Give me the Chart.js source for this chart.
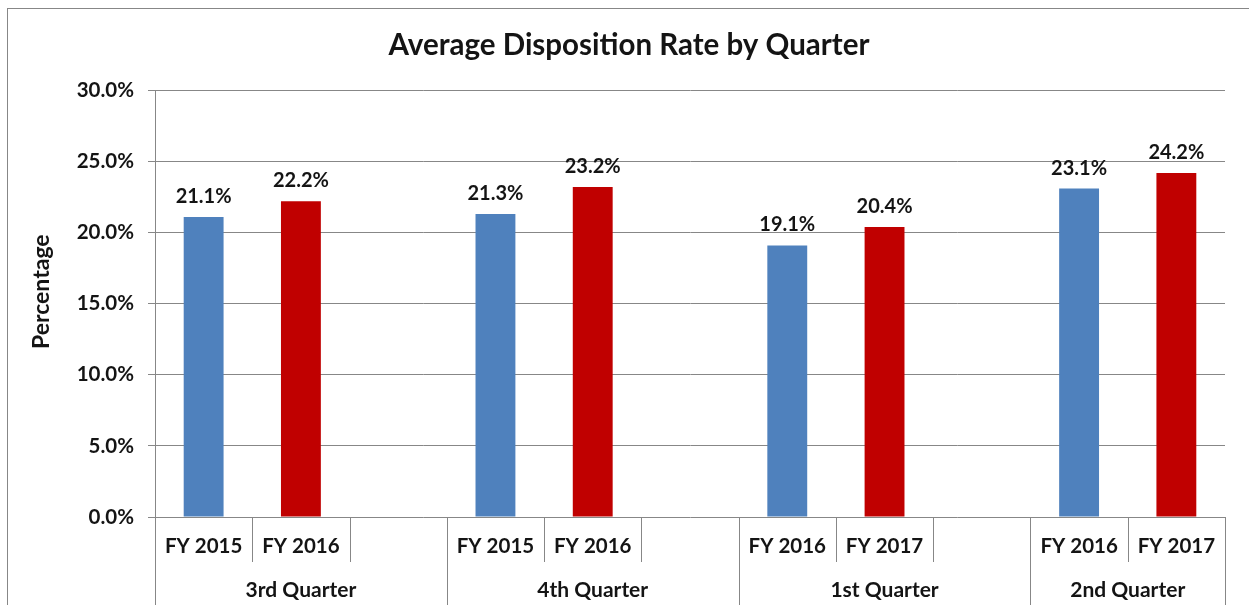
<!DOCTYPE html>
<html>
<head>
<meta charset="utf-8">
<script src="https://cdn.jsdelivr.net/npm/chart.js@4.4.1/dist/chart.umd.min.js"></script>
<style>
  html, body { margin: 0; padding: 0; background: #fff; overflow: hidden; }
  #wrap { width: 1249px; height: 605px; position: relative; }
</style>
</head>
<body>
<div id="wrap"><canvas id="c" width="1249" height="605"></canvas></div>
<script>
// ---- Data ----
const slotLabels = ['FY 2015', 'FY 2016', '', 'FY 2015', 'FY 2016', '', 'FY 2016', 'FY 2017', '', 'FY 2016', 'FY 2017'];
const quarters = ['3rd Quarter', '4th Quarter', '1st Quarter', '2nd Quarter'];
const quarterSlots = [3, 3, 3, 2];
const earlierYear = [21.1, null, null, 21.3, null, null, 19.1, null, null, 23.1, null];
const laterYear   = [null, 22.2, null, null, 23.2, null, null, 20.4, null, null, 24.2];
const yTicks = [0, 5, 10, 15, 20, 25, 30];
const yTitle = 'Percentage';

const FONT = 'Lato, "Noto Sans", sans-serif';
const TEXT = '#141414';
const GRID = '#878787';

const framePlugin = {
  id: 'frame',
  beforeDraw(chart) {
    const ctx = chart.ctx;
    ctx.save();
    ctx.strokeStyle = GRID;
    ctx.lineWidth = 1;
    ctx.strokeRect(7.5, 8.5, 1400, 800);
    ctx.restore();
  }
};

const multiAxisPlugin = {
  id: 'multiAxis',
  afterDraw(chart) {
    const ctx = chart.ctx;
    const xs = chart.scales.x;
    const top = chart.chartArea.bottom;
    const bottom = chart.height;
    ctx.save();
    ctx.strokeStyle = GRID;
    ctx.lineWidth = 1;
    const groupStarts = new Set();
    let acc = 0;
    groupStarts.add(0);
    quarterSlots.forEach(n => { acc += n; groupStarts.add(acc); });
    for (let i = 0; i <= slotLabels.length; i++) {
      const x = Math.round(xs.getPixelForValue(i - 0.5)) + 0.5;
      ctx.beginPath();
      ctx.moveTo(x, top);
      ctx.lineTo(x, groupStarts.has(i) ? bottom : top + 45);
      ctx.stroke();
    }
    ctx.fillStyle = TEXT;
    ctx.font = 'bold 21px ' + FONT;
    ctx.textAlign = 'center';
    ctx.textBaseline = 'middle';
    let start = 0;
    quarters.forEach((q, k) => {
      const end = start + quarterSlots[k];
      const x1 = xs.getPixelForValue(start - 0.5);
      const x2 = xs.getPixelForValue(end - 0.5);
      ctx.fillText(q, (x1 + x2) / 2, top + 73);
      start = end;
    });
    const ys = chart.scales.y;
    ctx.save();
    ctx.translate(42, (ys.top + ys.bottom) / 2 - 12);
    ctx.rotate(-Math.PI / 2);
    ctx.font = 'bold 23px ' + FONT;
    ctx.fillText(yTitle, 0, 0);
    ctx.restore();
    ctx.restore();
  }
};

const valueLabelPlugin = {
  id: 'valueLabels',
  afterDatasetsDraw(chart) {
    const ctx = chart.ctx;
    ctx.save();
    ctx.fillStyle = TEXT;
    ctx.font = 'bold 20px ' + FONT;
    ctx.textAlign = 'center';
    ctx.textBaseline = 'alphabetic';
    chart.data.datasets.forEach((ds, di) => {
      const meta = chart.getDatasetMeta(di);
      meta.data.forEach((el, i) => {
        const v = ds.data[i];
        if (v === null || v === undefined) return;
        ctx.fillText(v.toFixed(1) + '%', el.x, el.y - 14);
      });
    });
    ctx.restore();
  }
};

new Chart(document.getElementById('c'), {
  type: 'bar',
  data: {
    labels: slotLabels,
    datasets: [
      { label: 'Earlier year', data: earlierYear, backgroundColor: '#4f81bd' },
      { label: 'Later year', data: laterYear, backgroundColor: '#c00000' }
    ]
  },
  options: {
    responsive: false,
    animation: false,
    devicePixelRatio: 1,
    layout: { padding: { left: 33, right: 24, top: 0, bottom: 0 } },
    datasets: { bar: { grouped: false, categoryPercentage: 1, barPercentage: 0.41 } },
    plugins: {
      legend: { display: false },
      tooltip: { enabled: false },
      title: {
        display: true,
        text: 'Average Disposition Rate by Quarter',
        color: TEXT,
        font: { family: FONT, size: 29.5, weight: 'bold' },
        padding: { top: 28, bottom: 27 }
      }
    },
    scales: {
      x: {
        grid: { display: false },
        border: { display: false },
        ticks: {
          color: TEXT,
          font: { family: FONT, size: 20.5, weight: 'bold' },
          padding: 9,
          maxRotation: 0,
          autoSkip: false
        },
        afterFit(scale) { scale.height = 88; }
      },
      y: {
        min: 0, max: 30,
        afterBuildTicks(scale) { scale.ticks = yTicks.map(v => ({ value: v })); },
        grid: { color: GRID, tickLength: 7, drawTicks: true },
        border: { display: true, color: GRID },
        ticks: {
          color: TEXT,
          font: { family: FONT, size: 20.5, weight: 'bold' },
          padding: 14,
          callback: v => v.toFixed(1) + '%'
        },
        afterFit(scale) { scale.width = 122; }
      }
    }
  },
  plugins: [framePlugin, multiAxisPlugin, valueLabelPlugin]
});
</script>
</body>
</html>
